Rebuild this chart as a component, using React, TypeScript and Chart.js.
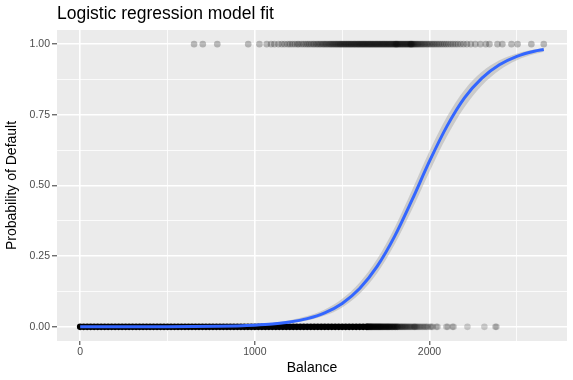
import React, { useEffect, useRef } from "react";
import { Chart, registerables } from "chart.js";

Chart.register(...registerables);

const TITLE = "Logistic regression model fit";
const X_TITLE = "Balance";
const Y_TITLE = "Probability of Default";

// Axis ticks (major ones labelled, minor ones blank)
const xTicks = [0, 500, 1000, 1500, 2000, 2500];
const xLabels = ["0", "", "1000", "", "2000", ""];
const yTicks = [0, 0.125, 0.25, 0.375, 0.5, 0.625, 0.75, 0.875, 1];
const yLabels = ["0.00", "", "0.25", "", "0.50", "", "0.75", "", "1.00"];

const X_MIN = -132.7;
const X_MAX = 2787;
const Y_MIN = -0.05;
const Y_MAX = 1.05;

// Fitted logistic curve and its confidence ribbon
const curveBalance = [0, 500, 800, 900, 1000, 1100, 1200, 1300, 1400, 1500, 1600, 1700, 1800, 1900, 2000, 2100, 2200, 2300, 2400, 2500, 2600, 2654];
const curveProb = [0.00002, 0.0004, 0.0019, 0.0033, 0.0058, 0.0099, 0.0171, 0.0292, 0.0496, 0.083, 0.1355, 0.2137, 0.32, 0.449, 0.586, 0.71, 0.81, 0.88, 0.927, 0.957, 0.975, 0.981];
const ribbonLower = [0.00001, 0.0002, 0.0012, 0.0022, 0.0039, 0.007, 0.0126, 0.0225, 0.0399, 0.0689, 0.1168, 0.1895, 0.291, 0.415, 0.549, 0.674, 0.777, 0.854, 0.908, 0.943, 0.965, 0.9735];
const ribbonUpper = [0.00005, 0.0007, 0.003, 0.005, 0.0085, 0.014, 0.0231, 0.038, 0.0617, 0.0995, 0.1567, 0.24, 0.351, 0.484, 0.622, 0.744, 0.838, 0.902, 0.943, 0.967, 0.981, 0.9864];

// Observations with default = Yes (plotted at 1)
const defaultBalance = [652, 702, 785, 962, 1026, 1068, 1093, 1112, 1135, 1154, 1170, 1188, 1201, 1215, 1229, 1243, 1252, 1266, 1278, 1290, 1301, 1311, 1322, 1333, 1341, 1352, 1360, 1369, 1377, 1386, 1394, 1401, 1409, 1416, 1424, 1431, 1437, 1444, 1450, 1457, 1463, 1469, 1475, 1481, 1487, 1492, 1498, 1503, 1509, 1514, 1520, 1525, 1531, 1536, 1541, 1547, 1552, 1557, 1563, 1568, 1573, 1578, 1584, 1589, 1594, 1599, 1604, 1609, 1614, 1619, 1624, 1629, 1634, 1639, 1644, 1649, 1654, 1659, 1664, 1669, 1674, 1679, 1684, 1689, 1694, 1699, 1704, 1709, 1714, 1719, 1724, 1729, 1734, 1739, 1744, 1749, 1754, 1759, 1764, 1769, 1774, 1779, 1784, 1789, 1794, 1799, 1803, 1807, 1810, 1813, 1817, 1821, 1826, 1831, 1836, 1841, 1846, 1851, 1856, 1861, 1866, 1871, 1876, 1881, 1886, 1890, 1893, 1896, 1899, 1903, 1908, 1913, 1919, 1925, 1931, 1937, 1944, 1951, 1958, 1965, 1973, 1981, 1989, 1997, 2006, 2015, 2024, 2033, 2043, 2053, 2063, 2074, 2085, 2096, 2108, 2121, 2134, 2148, 2162, 2178, 2195, 2214, 2236, 2262, 2291, 2322, 2343, 2389, 2417, 2469, 2504, 2583, 2654];

// Observations with default = No (plotted at 0): saturated bulk, thinning middle, sparse tail
const noDefaultDense = [0, 20, 40, 60, 80, 100, 120, 140, 160, 180, 200, 220, 240, 260, 280, 300, 320, 340, 360, 380, 400, 420, 440, 460, 480, 500, 520, 540, 560, 580, 600, 620, 640, 660, 680, 700, 720, 740, 760, 780, 800, 820, 840, 860, 880, 900, 920, 940, 960, 980, 1000, 1020, 1040, 1060, 1080, 1100, 1120, 1140, 1160, 1180, 1200, 1220, 1240, 1260, 1280, 1300, 1320, 1340, 1360, 1380, 1400, 1420, 1440, 1460, 1480, 1500, 1520, 1540, 1560, 1580, 1600, 1620, 1640];
const noDefaultMid = [1645, 1650, 1655, 1660, 1665, 1670, 1676, 1682, 1688, 1694, 1700, 1706, 1712, 1718, 1724, 1731, 1738, 1745, 1752, 1759, 1766, 1773, 1781, 1789, 1797, 1805, 1814];
const noDefaultTail = [1818, 1822, 1826, 1830, 1834, 1838, 1842, 1846, 1850, 1855, 1859, 1863, 1868, 1872, 1877, 1882, 1887, 1892, 1897, 1903, 1909, 1913, 1916, 1920, 1926, 1931, 1938, 1945, 1952, 1960, 1968, 1975, 1983, 1990, 2003, 2010, 2018, 2039, 2046, 2096, 2104, 2131, 2138, 2217, 2314, 2377, 2383];

const FONT = '"Liberation Sans", Arial, Helvetica, sans-serif';

const panelBg = {
  id: "panelBg",
  beforeDraw(chart: any) {
    const { ctx, chartArea } = chart;
    ctx.save();
    ctx.fillStyle = "#EBEBEB";
    ctx.fillRect(chartArea.left, chartArea.top, chartArea.right - chartArea.left, chartArea.bottom - chartArea.top);
    ctx.restore();
  },
};

const plotTitle = {
  id: "plotTitle",
  afterDraw(chart: any) {
    const { ctx, chartArea } = chart;
    ctx.save();
    ctx.font = `17.5px ${FONT}`;
    ctx.fillStyle = "#000000";
    ctx.textAlign = "left";
    ctx.textBaseline = "alphabetic";
    ctx.fillText(TITLE, chartArea.left, 18.5);
    ctx.restore();
  },
};

const pointSet = (label: string, xs: number[], y: number, color: string, order: number) => ({
  label,
  data: xs.map((x) => ({ x, y })),
  showLine: false,
  pointRadius: 3.3,
  pointBackgroundColor: color,
  pointBorderWidth: 0,
  pointBorderColor: "rgba(0,0,0,0)",
  order,
});

export default function App() {
  const ref = useRef<HTMLCanvasElement>(null);

  useEffect(() => {
    document.body.style.margin = "0";
    const canvas = ref.current;
    if (!canvas) return;
    const xy = (xs: number[], ys: number[]) => xs.map((x, i) => ({ x, y: ys[i] }));

    const chart = new Chart(canvas, {
      type: "line",
      data: {
        datasets: [
          {
            label: "fit",
            data: xy(curveBalance, curveProb),
            borderColor: "#3366FF",
            borderWidth: 3,
            pointRadius: 0,
            fill: false,
            cubicInterpolationMode: "monotone",
            order: 0,
          },
          {
            label: "upper",
            data: xy(curveBalance, ribbonUpper),
            borderColor: "rgba(0,0,0,0)",
            borderWidth: 0,
            backgroundColor: "rgba(153,153,153,0.4)",
            pointRadius: 0,
            fill: "+1",
            cubicInterpolationMode: "monotone",
            order: 1,
          },
          {
            label: "lower",
            data: xy(curveBalance, ribbonLower),
            borderColor: "rgba(0,0,0,0)",
            borderWidth: 0,
            pointRadius: 0,
            fill: false,
            cubicInterpolationMode: "monotone",
            order: 2,
          },
          pointSet("default", defaultBalance, 1, "rgba(0,0,0,0.25)", 3),
          pointSet("noDefaultDense", noDefaultDense, 0, "#000000", 4),
          pointSet("noDefaultMid", noDefaultMid, 0, "rgba(0,0,0,0.5)", 5),
          pointSet("noDefaultTail", noDefaultTail, 0, "rgba(0,0,0,0.18)", 6),
        ],
      },
      options: {
        animation: false,
        responsive: true,
        maintainAspectRatio: false,
        layout: { padding: { top: 30, right: 6, left: 0, bottom: 0 } },
        plugins: {
          legend: { display: false },
          tooltip: { enabled: false },
          filler: { propagate: false },
        },
        scales: {
          x: {
            type: "linear",
            min: X_MIN,
            max: X_MAX,
            afterBuildTicks: (s: any) => {
              s.ticks = xTicks.map((v) => ({ value: v }));
            },
            afterFit: (s: any) => {
              s.height = 39;
            },
            ticks: {
              autoSkip: false,
              maxRotation: 0,
              padding: 1,
              color: "#4D4D4D",
              font: { family: FONT, size: 10.5 },
              callback: (_v: any, i: number) => xLabels[i],
            },
            grid: {
              color: "#FFFFFF",
              lineWidth: (c: any) => (xLabels[c.index] ? 1.6 : 0.8),
              tickColor: (c: any) => (xLabels[c.index] ? "#333333" : "rgba(0,0,0,0)"),
              tickLength: 4,
              tickWidth: 1,
              drawTicks: true,
            },
            border: { display: false },
            title: {
              display: true,
              text: X_TITLE,
              color: "#000000",
              font: { family: FONT, size: 14 },
              padding: { top: 0, bottom: 3 },
            },
          },
          y: {
            type: "linear",
            min: Y_MIN,
            max: Y_MAX,
            afterBuildTicks: (s: any) => {
              s.ticks = yTicks.map((v) => ({ value: v }));
            },
            afterFit: (s: any) => {
              s.width = 57;
            },
            ticks: {
              autoSkip: false,
              padding: 2,
              color: "#4D4D4D",
              font: { family: FONT, size: 10.5 },
              callback: (_v: any, i: number) => yLabels[i],
            },
            grid: {
              color: "#FFFFFF",
              lineWidth: (c: any) => (yLabels[c.index] ? 1.6 : 0.8),
              tickColor: (c: any) => (yLabels[c.index] ? "#333333" : "rgba(0,0,0,0)"),
              tickLength: 5,
              tickWidth: 1,
              drawTicks: true,
            },
            border: { display: false },
            title: {
              display: true,
              text: Y_TITLE,
              color: "#000000",
              font: { family: FONT, size: 14 },
              padding: { top: 4, bottom: 0 },
            },
          },
        },
      },
      plugins: [panelBg, plotTitle],
    } as any);

    return () => chart.destroy();
  }, []);

  return (
    <div style={{ width: 573, height: 380, position: "relative" }}>
      <canvas ref={ref} />
    </div>
  );
}
